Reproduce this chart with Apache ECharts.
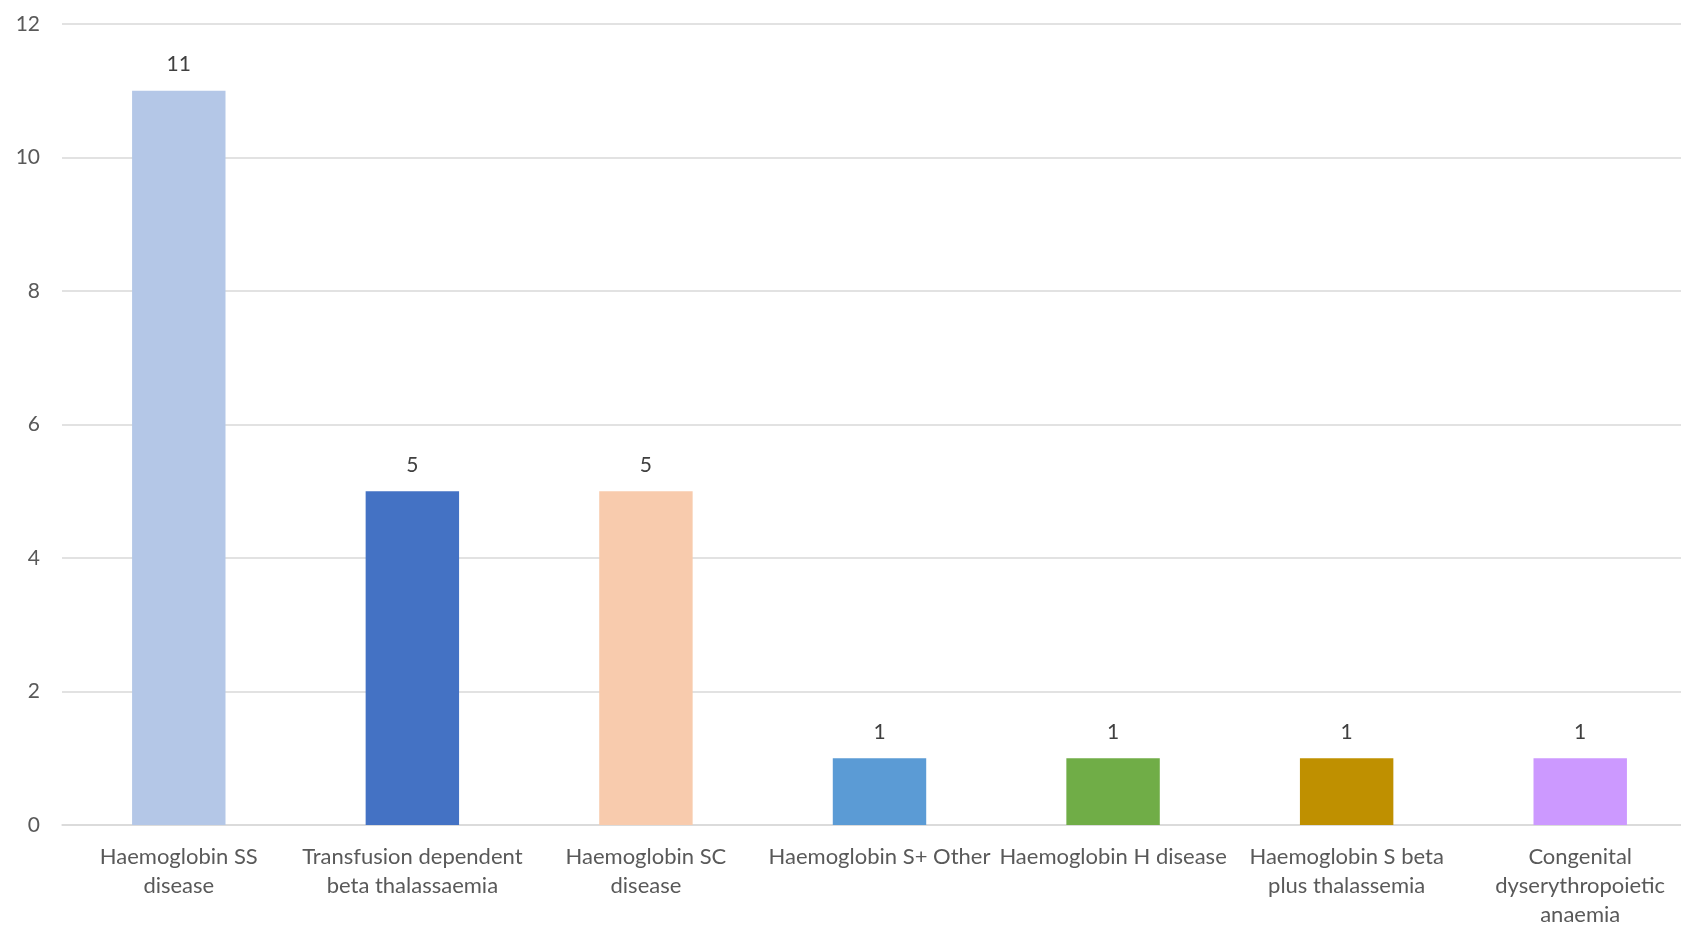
<!DOCTYPE html>
<html>
<head>
<meta charset="utf-8">
<title>Haemoglobin disorders</title>
<script src="https://cdn.jsdelivr.net/npm/echarts@6/dist/echarts.min.js"></script>
<style>
  html, body { margin: 0; padding: 0; background: #ffffff; }
  #chart { width: 1681px; height: 926px; }
</style>
</head>
<body>
<div id="chart"></div>
<script>
// Diagnoses shown on the category axis (line breaks as printed under each bar)
const categories = [
  'Haemoglobin SS\ndisease',
  'Transfusion dependent\nbeta thalassaemia',
  'Haemoglobin SC\ndisease',
  'Haemoglobin S+ Other',
  'Haemoglobin H disease',
  'Haemoglobin S beta\nplus thalassemia',
  'Congenital\ndyserythropoietic\nanaemia'
];

// Number of patients per diagnosis
const counts = [11, 5, 5, 1, 1, 1, 1];

// Value axis range and step
const yMin = 0;
const yMax = 12;
const yStep = 2;

// One fill colour per bar
const barColors = ['#B4C7E7', '#4472C4', '#F8CBAD', '#5B9BD5', '#70AD47', '#BF9000', '#CC99FF'];

const fontFamily = 'Lato, "Liberation Sans", sans-serif';

const chart = echarts.init(document.getElementById('chart'), null, { renderer: 'canvas' });

chart.setOption({
  backgroundColor: '#ffffff',
  animation: false,
  grid: {
    left: 62,
    top: 24,
    bottom: 101,
    width: 1635,
    containLabel: false,
    outerBoundsMode: 'none'
  },
  xAxis: {
    type: 'category',
    data: categories,
    axisLine: { show: true, lineStyle: { color: '#D9D9D9', width: 1.5 } },
    axisTick: { show: false },
    axisLabel: {
      interval: 0,
      margin: 17,
      color: '#595959',
      fontFamily: fontFamily,
      fontSize: 22,
      lineHeight: 29,
      align: 'center'
    }
  },
  yAxis: {
    type: 'value',
    min: yMin,
    max: yMax,
    interval: yStep,
    axisLine: { show: false },
    axisTick: { show: false },
    splitLine: { show: true, lineStyle: { color: '#D9D9D9', width: 1.5 } },
    axisLabel: {
      margin: 22,
      color: '#595959',
      fontFamily: fontFamily,
      fontSize: 21
    }
  },
  series: [{
    type: 'bar',
    data: counts.map((v, i) => ({ value: v, itemStyle: { color: barColors[i] } })),
    barCategoryGap: '60%',
    label: {
      show: true,
      position: 'top',
      distance: 16,
      color: '#404040',
      fontFamily: fontFamily,
      fontSize: 21
    }
  }]
});
</script>
</body>
</html>
